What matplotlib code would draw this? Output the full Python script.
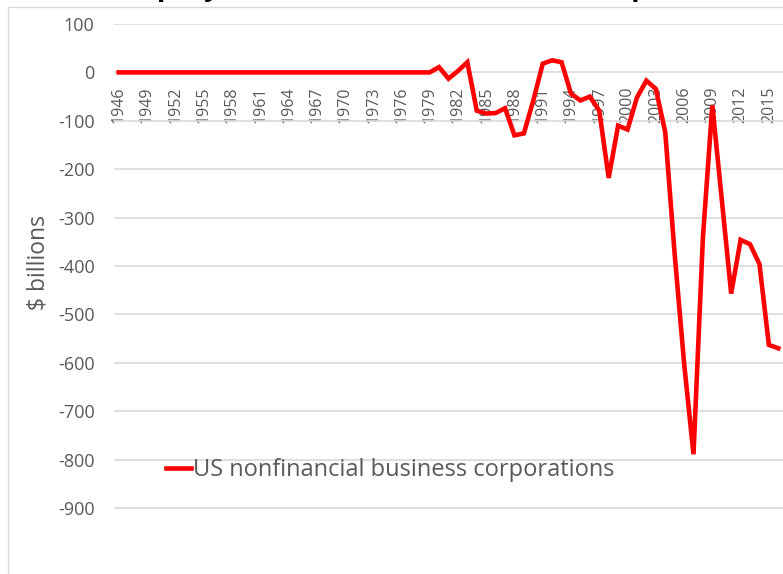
import matplotlib
matplotlib.use("Agg")
import matplotlib.pyplot as plt
from matplotlib.patches import Rectangle

plt.rcParams['font.family'] = ['Open Sans', 'DejaVu Sans']

# -------------------- data ----------------------------------------------
years = list(range(1946, 2017))
issuance = [
    0, 0, 0, 0, 0, 0, 0, 0, 0, 0,            # 1946-1955
    0, 0, 0, 0, 0, 0, 0, 0, 0, 0,            # 1956-1965
    0, 0, 0, 0, 0, 0, 0, 0, 0, 0,            # 1966-1975
    0, 0, 0, 0, 11, -13, 3, 21, -79, -85,    # 1976-1985
    -84, -74, -130, -126, -58, 18, 25, 21, -44, -58,   # 1986-1995
    -50, -79, -218, -110, -118, -52, -17, -34, -123, -375,  # 1996-2005
    -600, -789, -341, -68, -262, -457, -346, -355, -396, -563,  # 2006-2015
    -570,                                    # 2016
]
series_name = "US nonfinancial business corporations"
y_label = "$ billions"
title = "Net equity issuance, US nonfinancial corporations, 1946-2016"
yticks = [100, 0, -100, -200, -300, -400, -500, -600, -700, -800, -900]

GREY = '#595959'
GRID = '#d9d9d9'

# -------------------- figure --------------------------------------------
W, H = 783, 574
fig = plt.figure(figsize=(W/100, H/100), dpi=100)

# chart area border (cut off at right / bottom)
fig.patches.append(Rectangle((8/W, -0.1), 2, 1-7/H+0.1, transform=fig.transFigure,
                             fill=False, edgecolor=GRID, lw=1.0))

top_px, px100 = 24, 48.4
ymin, ymax = -960, 100
bot_px = top_px + (ymax-ymin)/100*px100
ax = fig.add_axes([114/W, 1-bot_px/H, 1-114/W, (bot_px-top_px)/H])

ax.plot(years, issuance, color='#ff0000', lw=3.3, solid_joinstyle='miter',
        label=series_name, zorder=3)

ax.set_xlim(1945.5, 2016.5)
ax.set_ylim(ymin, ymax)
ax.grid(axis='y', color=GRID, lw=1.2)
ax.set_axisbelow(True)
for s in ['top', 'right', 'left']:
    ax.spines[s].set_visible(False)
# category labels sit on the zero line, like Excel
ax.spines['bottom'].set_position(('data', 0))
ax.spines['bottom'].set_visible(False)

ax.set_yticks(yticks)
ax.set_yticklabels([str(v) for v in yticks])
ax.set_xticks(years[::3])
ax.set_xticklabels([str(y) for y in years[::3]])
ax.tick_params(axis='both', length=0, colors=GREY)
ax.tick_params(axis='y', labelsize=13, pad=14)
ax.tick_params(axis='x', labelsize=11.5, pad=10, labelrotation=90)

fig.text(38/W, 1-263/H, y_label, rotation=90, ha='center', va='center',
         color=GREY, fontsize=16.5)

ax.legend(loc='center left', bbox_to_anchor=(166/W, 1-470/H),
          bbox_transform=fig.transFigure, frameon=False, handlelength=1.05,
          handletextpad=0.1, borderpad=0, borderaxespad=0,
          prop={'size': 17}, labelcolor=GREY)

# title - only its lower edge shows in the crop
fig.text(73/W, 1+5/H, title, ha='left', va='baseline', fontsize=20,
         fontweight='bold', color='black')

fig.savefig('out.png', dpi=100)
